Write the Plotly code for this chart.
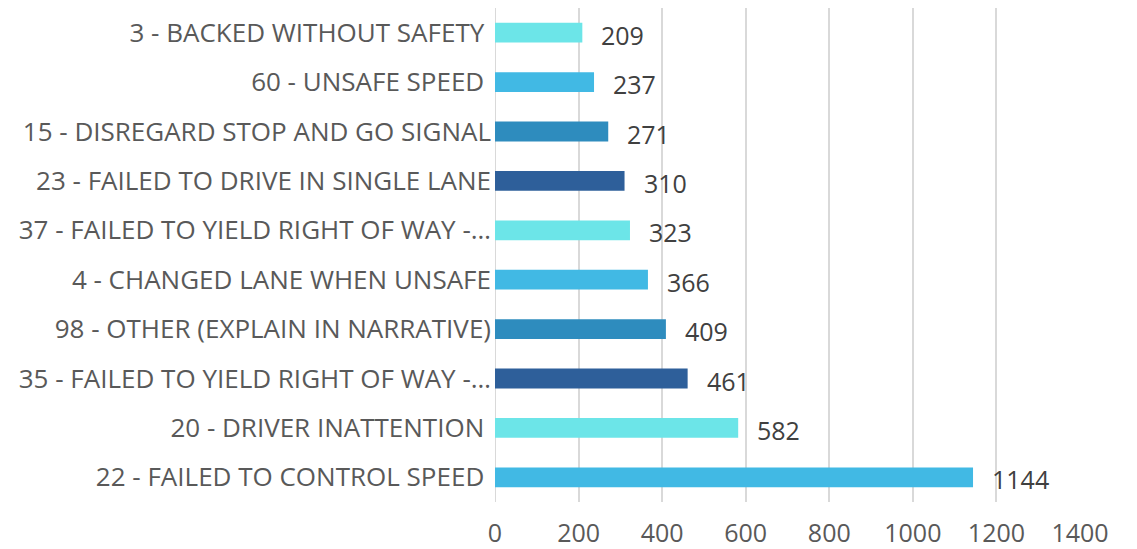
import plotly.graph_objects as go

categories = [
    "22 - FAILED TO CONTROL SPEED\u00a0",
    "20 - DRIVER INATTENTION\u00a0",
    "35 - FAILED TO YIELD RIGHT OF WAY -…",
    "98 - OTHER (EXPLAIN IN NARRATIVE)",
    "4 - CHANGED LANE WHEN UNSAFE",
    "37 - FAILED TO YIELD RIGHT OF WAY -…",
    "23 - FAILED TO DRIVE IN SINGLE LANE",
    "15 - DISREGARD STOP AND GO SIGNAL",
    "60 - UNSAFE SPEED\u00a0",
    "3 - BACKED WITHOUT SAFETY\u00a0",
]
values = [1144, 582, 461, 409, 366, 323, 310, 271, 237, 209]
bar_colors = ["#41B9E4", "#6CE5E8", "#2E5F9A", "#2E8CBE", "#41B9E4",
              "#6CE5E8", "#2E5F9A", "#2E8CBE", "#41B9E4", "#6CE5E8"]
x_ticks = [0, 200, 400, 600, 800, 1000, 1200, 1400]

# unique y keys so duplicate labels stay separate rows
ykeys = list(range(len(categories)))

fig = go.Figure()
fig.add_trace(go.Bar(
    x=values, y=ykeys, orientation="h",
    marker=dict(color=bar_colors, line=dict(width=0)),
    width=0.4,
    hoverinfo="skip",
))

for k, v in zip(ykeys, values):
    fig.add_annotation(
        x=v, y=k, text=str(v), showarrow=False,
        xanchor="left", yanchor="middle", xshift=17, yshift=-2,
        font=dict(family="Open Sans", size=25, color="#404040"),
    )

fig.update_layout(
    width=1129, height=541,
    margin=dict(l=487, r=57, t=0, b=47, autoexpand=False),
    paper_bgcolor="white", plot_bgcolor="white",
    showlegend=False,
    font=dict(family="Open Sans", color="#595959"),
    xaxis=dict(
        range=[0, 1400], tickvals=x_ticks, ticktext=[str(t) for t in x_ticks],
        showgrid=True, gridcolor="#D9D9D9", gridwidth=2,
        zeroline=False, showline=False, ticks="", automargin=False,
        tickfont=dict(family="Open Sans", size=25, color="#595959"),
        ticklabelstandoff=14,
    ),
    yaxis=dict(
        tickvals=ykeys, ticktext=categories,
        range=[-0.5, len(categories) - 0.5],
        showgrid=False, zeroline=False, showline=False, ticks="", automargin=False,
        tickfont=dict(family="Open Sans", size=26, color="#595959"),
        ticklabelstandoff=3,
    ),
)
fig.add_shape(type="line", xref="x", yref="paper", x0=0, x1=0, y0=0, y1=1,
              line=dict(color="#D9D9D9", width=2), layer="below")

fig.write_html("out.html")
